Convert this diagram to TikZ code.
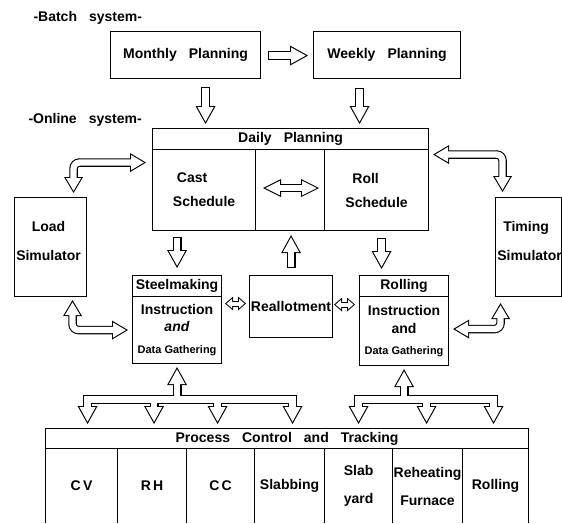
\documentclass[tikz,border=0pt]{standalone}
\usepackage{fontspec}
\setmainfont{Liberation Sans}[WordSpace=3.1]
\newfontfamily\smallfont{Liberation Sans}
\usetikzlibrary{arrows.meta,calc}

% filled head for the hollow block arrows
\newdimen\headback
\pgfdeclarearrow{
  name = blockhead,
  parameters = {\the\pgfarrowlength,\the\pgfarrowwidth},
  setup code = {
    \pgfarrowssettipend{0pt}
    \pgfarrowssetbackend{-\pgfarrowlength}
    \headback=\pgfarrowlength
    \advance\headback by -0.5pt
    \pgfarrowssetlineend{-\headback}
    \pgfarrowssavethe\pgfarrowlength
    \pgfarrowssavethe\pgfarrowwidth
  },
  drawing code = {
    \pgfpathmoveto{\pgfpointorigin}
    \pgfpathlineto{\pgfpoint{-\pgfarrowlength}{.5\pgfarrowwidth}}
    \pgfpathlineto{\pgfpoint{-\pgfarrowlength}{-.5\pgfarrowwidth}}
    \pgfpathclose
    \pgfusepathqfill
  },
  defaults = {length=18pt, width=20pt}
}

\tikzset{
  box/.style={draw, line width=1.1pt, inner sep=0pt, anchor=north west},
  fatout/.style={line width=9pt, -{blockhead[length=18pt,width=20pt]}},
  fatin/.style={white, line width=6.8pt, -{blockhead[length=14.64pt,width=16.26pt]},
    shorten >=2.27pt, shorten <=1.1pt},
  midout/.style={line width=8pt, {blockhead[length=18pt,width=18pt]}-{blockhead[length=18pt,width=18pt]}},
  midin/.style={white, line width=5.8pt, {blockhead[length=14.44pt,width=14.44pt]}-{blockhead[length=14.44pt,width=14.44pt]},
    shorten >=2.46pt, shorten <=2.46pt},
  bendout/.style={line width=8.5pt, {blockhead[length=16pt,width=19pt]}-{blockhead[length=16pt,width=19pt]}},
  bendin/.style={white, line width=6.3pt, {blockhead[length=12.75pt,width=15.14pt]}-{blockhead[length=12.75pt,width=15.14pt]},
    shorten >=2.15pt, shorten <=2.15pt},
  tinyout/.style={line width=6pt, {blockhead[length=8pt,width=14pt]}-{blockhead[length=8pt,width=14pt]}},
  tinyin/.style={white, line width=4pt, {blockhead[length=5.5pt,width=9.6pt]}-{blockhead[length=5.5pt,width=9.6pt]},
    shorten >=1.5pt, shorten <=1.5pt},
}
% black pass, then white pass
\newcommand\blockarrow[3][]{\draw[#2out,#1] #3; \draw[#2in,#1] #3;}

\begin{document}
\begin{tikzpicture}[x=1pt, y=-1pt, font=\fontsize{14}{16}\selectfont\bfseries]
	\useasboundingbox (0,0) rectangle (562,523);
	\clip (-5,-5) rectangle (567,522.3);

	% batch system
	\node[anchor=west] (batch) at (30,18) {-Batch system-};
	\node[box, minimum width=150pt, minimum height=47pt] (monthly) at (110,31) {Monthly Planning};
	\node[box, minimum width=147pt, minimum height=47pt] (weekly) at (313,31) {Weekly Planning};

	% online system
	\node[anchor=west] (online) at (25,120) {-Online system-};
	\node[box, minimum width=276pt, minimum height=21pt] (dailyhead) at (152,128) {Daily Planning};
	\node[box, minimum width=103pt, minimum height=81pt, align=left] (cast) at (152,149) {\hspace{4pt}Cast\\[8pt]Schedule};
	\node[box, minimum width=69pt, minimum height=81pt] (mid) at (255,149) {};
	\node[box, minimum width=104pt, minimum height=81pt, align=left] (roll) at (324,149) {\hspace{7pt}Roll\\[8pt]Schedule};

	\node[box, minimum width=72pt, minimum height=99pt] (load) at (14,197) {};
	\node[align=center] (loadtext) at ($(load.center)+(-2,-6)$) {Load\\[13pt]Simulator};
	\node[box, minimum width=66pt, minimum height=99pt] (timing) at (495,197) {};
	\node[align=left] (timingtext) at ($(timing.center)+(1,-6)$) {\hspace{6pt}Timing\\[13pt]Simulator};

	\node[box, minimum width=89pt, minimum height=21pt] (steelhead) at (132,275) {Steelmaking};
	\node[box, minimum width=89pt, minimum height=67pt, align=center] (steelbody) at (132,296)
		{Instruction\\[1pt]\textit{and}\\[6pt]{\smallfont\bfseries\fontsize{11}{12}\selectfont Data Gathering}};
	\node[box, minimum width=83pt, minimum height=62pt] (reallot) at (249,275) {Reallotment};
	\node[box, minimum width=89pt, minimum height=21pt] (rollinghead) at (359,275) {Rolling};
	\node[box, minimum width=89pt, minimum height=69pt, align=center] (rollingbody) at (359,296)
		{Instruction\\[2pt]and\\[5pt]{\smallfont\bfseries\fontsize{11}{12}\selectfont Data Gathering}};

	% process control
	\node[box, minimum width=483pt, minimum height=20pt] (prochead) at (45,428) {Process Control and Tracking};
	\foreach \name/\x/\w/\txt in {cv/45/72/C\,V, rh/117/69/R\,H, cc/186/68/C\,C, slabbing/254/70/Slabbing,
		slabyard/324/68/{Slab\\[12pt]yard}, reheat/392/70/{Reheating\\[12pt]Furnace}, rollcol/462/66/Rolling}
		\node[box, minimum width=\w pt, minimum height=75pt, align=center] (\name) at (\x,448) {\txt};

	% planning arrows
	\blockarrow{fat}{($(monthly.east)+(7,0.5)$) -- ($(weekly.west)+(-5,0.5)$)}
	\blockarrow{fat}{($(monthly.south)+(20,8)$) -- ($(dailyhead.north)+(-85,-4)$)}
	\blockarrow{fat}{($(weekly.south)+(-27.5,9)$) -- ($(dailyhead.north)+(69,-4)$)}
	\blockarrow{fat}{($(steelhead.north |- cast.south)+(0,6)$) -- ($(steelhead.north)+(0,-7)$)}
	\blockarrow{fat}{($(roll.south)+(5,7)$) -- ($(roll.south |- rollinghead.north)+(5,-6)$)}
	\blockarrow{fat}{($(reallot.north)+(0,-7)$) -- ($(reallot.north |- mid.south)+(0,4)$)}
	\blockarrow{mid}{($(mid.west)+(8,-2)$) -- ($(mid.east)+(-6,-2)$)}
	\blockarrow{tiny}{($(steelbody.east |- reallot.west)+(3,-3)$) -- ($(reallot.west)+(-3,-3)$)}
	\blockarrow{tiny}{($(reallot.east)+(1,-2)$) -- ($(rollingbody.west |- reallot.east)+(-4,-2)$)}

	% simulators
	\blockarrow[rounded corners=6pt]{bend}{($(load.north)+(23,-4)$) |- ($(cast.west)+(-6,-27.5)$)}
	\blockarrow[rounded corners=6pt]{bend}{($(roll.east)+(4,-35.5)$) -| ($(timing.north)+(-26,-5)$)}
	\blockarrow[rounded corners=6pt]{bend}{($(load.south)+(22,3)$) |- ($(steelbody.west)+(-4,0)$)}
	\blockarrow[rounded corners=6pt]{bend}{($(rollingbody.east)+(4,-2)$) -| ($(timing.south)+(-28,6)$)}

	% process branches
	\foreach \c/\dx in {cv/6, rh/2, cc/-3, slabbing/3}
		\draw[fatout] ($(steelbody.south)+(0,35)$) -| ($(\c.north)+(\dx,-24)$);
	\foreach \c/\dx in {slabyard/0, reheat/-1, rollcol/-2}
		\draw[fatout] ($(rollingbody.south)+(0,33)$) -| ($(\c.north)+(\dx,-24)$);
	\draw[fatout] ($(steelbody.south)+(0,35)$) -- ($(steelbody.south)+(0,3)$);
	\draw[fatout] ($(rollingbody.south)+(0,33)$) -- ($(rollingbody.south)+(0,3)$);
	\foreach \c/\dx in {cv/6, rh/2, cc/-3, slabbing/3}
		\draw[fatin, shorten <=0pt] ($(steelbody.south)+(0,35)$) -| ($(\c.north)+(\dx,-24)$);
	\foreach \c/\dx in {slabyard/0, reheat/-1, rollcol/-2}
		\draw[fatin, shorten <=0pt] ($(rollingbody.south)+(0,33)$) -| ($(\c.north)+(\dx,-24)$);
	\draw[fatin, shorten <=0pt] ($(steelbody.south)+(0,35)$) -- ($(steelbody.south)+(0,3)$);
	\draw[fatin, shorten <=0pt] ($(rollingbody.south)+(0,33)$) -- ($(rollingbody.south)+(0,3)$);
\end{tikzpicture}
\end{document}
